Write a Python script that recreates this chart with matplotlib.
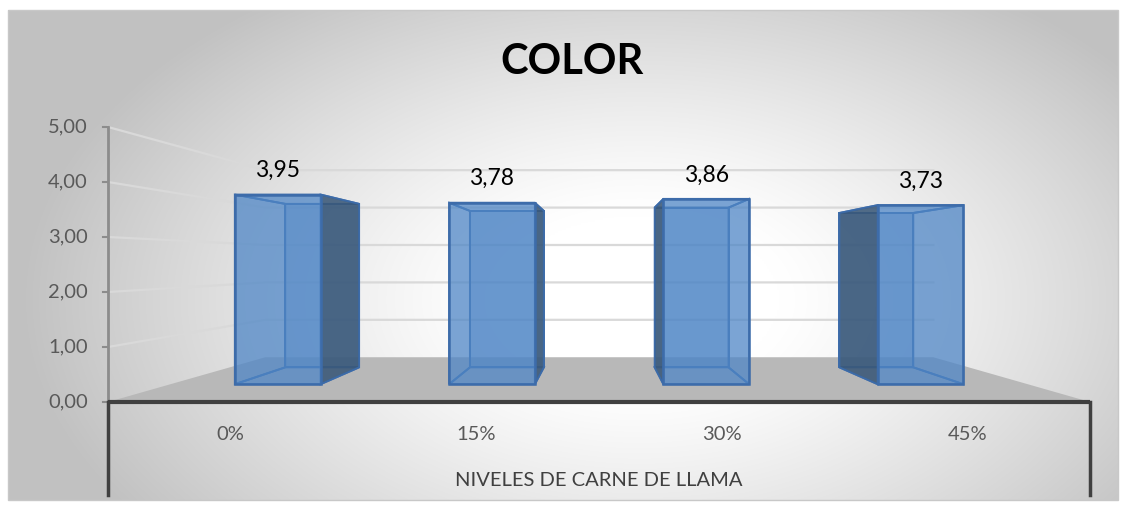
"""
plot.py - Excel-style 3D column chart "COLOR" drawn with plain matplotlib patches.
"""
import matplotlib
matplotlib.use('Agg')
import matplotlib.pyplot as plt
from matplotlib.patches import Polygon, Rectangle
import numpy as np

plt.rcParams['font.family'] = ['Lato', 'DejaVu Sans']

# Chart data
categories = ['0%', '15%', '30%', '45%']
values = [3.95, 3.78, 3.86, 3.73]
y_ticks = [0, 1, 2, 3, 4, 5]
title = 'COLOR'
x_label = 'NIVELES DE CARNE DE LLAMA'

# Canvas / projection layout (pixels)
W, H = 1126, 508
AX_LEFT, AX_RIGHT = 108, 1090      # front edge of the floor
Y_BASE = 402                        # value 0 on the front plane
PX_PER_UNIT = 55                    # value scale on the front plane
VX, VY = 600, 262                   # vanishing point
K_DEPTH = 0.47                      # perspective strength
WALL_Z = 1.0                        # depth of back wall
BAR_Z0, BAR_Z1 = 0.31, 0.70         # depth range of the columns
BAR_FRAC = 0.40                     # column width / category width

BAR_COLOR = '#4f86c6'
EDGE_COLOR = '#3d6caa'
SIDE_COLOR = '#3a5878'
FLOOR_COLOR = '#b8b8b8'
GRID_COLOR = '#d9d9d9'


def proj(x, v, z):
    """Project world point (x on front plane, value, depth) to screen pixels."""
    s = 1.0 / (1.0 + K_DEPTH * z)
    y = Y_BASE - PX_PER_UNIT * v
    return VX + (x - VX) * s, VY + (y - VY) * s


def poly(ax, pts, **kw):
    ax.add_patch(Polygon([proj(*p) for p in pts], closed=True, **kw))


fig = plt.figure(figsize=(W / 100, H / 100), dpi=100)
fig.patch.set_facecolor('white')
ax = fig.add_axes([0, 0, 1, 1])
ax.set_xlim(0, W)
ax.set_ylim(H, 0)
ax.axis('off')

# Radial-gradient chart background (white centre, grey rim)
cx0, cy0, cx1, cy1 = 8, 10, 1118, 500
gx, gy = np.meshgrid(np.linspace(cx0, cx1, 600), np.linspace(cy0, cy1, 300))
r = np.sqrt(((gx - 640) / 560) ** 2 + ((gy - 300) / 340) ** 2)
shade = 1.0 - 0.24 * np.clip((r - 0.25) / 0.85, 0, 1) ** 1.2
ax.imshow(np.dstack([shade] * 3), extent=(cx0, cx1, cy1, cy0), aspect='auto',
          interpolation='bilinear', zorder=0)
ax.add_patch(Rectangle((cx0, cy0), cx1 - cx0, cy1 - cy0, fill=False,
                       edgecolor='#c8c8c8', linewidth=1, zorder=1))

# Gridlines on back wall and left side wall
for v in y_ticks[1:]:
    xs, ys = zip(proj(AX_LEFT, v, 0), proj(AX_LEFT, v, WALL_Z), proj(AX_RIGHT, v, WALL_Z))
    ax.plot(xs, ys, color=GRID_COLOR, linewidth=1.6, zorder=2)

# Floor
poly(ax, [(AX_LEFT, 0, 0), (AX_RIGHT, 0, 0), (AX_RIGHT, 0, WALL_Z), (AX_LEFT, 0, WALL_Z)],
     facecolor=FLOOR_COLOR, edgecolor='none', zorder=3)

# Columns
cat_w = (AX_RIGHT - AX_LEFT) / len(categories)
for i, v in enumerate(values):
    xc = AX_LEFT + (i + 0.5) * cat_w
    x0, x1 = xc - BAR_FRAC / 2 * cat_w, xc + BAR_FRAC / 2 * cat_w
    z0, z1 = BAR_Z0, BAR_Z1
    zo = 4 + i * 0.1
    back = [(x0, 0, z1), (x1, 0, z1), (x1, v, z1), (x0, v, z1)]
    bottom = [(x0, 0, z0), (x1, 0, z0), (x1, 0, z1), (x0, 0, z1)]
    top = [(x0, v, z0), (x1, v, z0), (x1, v, z1), (x0, v, z1)]
    left = [(x0, 0, z0), (x0, 0, z1), (x0, v, z1), (x0, v, z0)]
    right = [(x1, 0, z0), (x1, 0, z1), (x1, v, z1), (x1, v, z0)]
    front = [(x0, 0, z0), (x1, 0, z0), (x1, v, z0), (x0, v, z0)]
    side_vis, side_hid = (left, right) if x0 > VX else (right, left)

    poly(ax, back, facecolor=BAR_COLOR, alpha=0.4, edgecolor='none', zorder=zo)
    for f in (back, bottom, top, side_hid):
        poly(ax, f, facecolor='none', edgecolor=EDGE_COLOR, linewidth=1.4, zorder=zo)
    poly(ax, side_vis, facecolor=SIDE_COLOR, alpha=0.88, edgecolor=EDGE_COLOR,
         linewidth=1.4, zorder=zo + 0.01)
    poly(ax, front, facecolor=BAR_COLOR, alpha=0.75, edgecolor='none', zorder=zo + 0.02)
    poly(ax, front, facecolor='none', edgecolor=EDGE_COLOR, linewidth=1.8, zorder=zo + 0.03)

    lx, ly = proj(xc, v, z0)
    ax.text(lx, ly - 24, f'{v:.2f}'.replace('.', ','), ha='center', va='center',
            fontsize=16.5, color='black', zorder=6)

# Value axis
ax.plot([AX_LEFT, AX_LEFT], [proj(AX_LEFT, 0, 0)[1], proj(AX_LEFT, y_ticks[-1], 0)[1]],
        color='#8c8c8c', linewidth=2, zorder=5)
for v in y_ticks:
    ty = proj(AX_LEFT, v, 0)[1]
    ax.plot([AX_LEFT - 5, AX_LEFT], [ty, ty], color='#8c8c8c', linewidth=1.5, zorder=5)
    ax.text(AX_LEFT - 20, ty, f'{v:.2f}'.replace('.', ','), ha='right', va='center',
            fontsize=14.5, color='#595959', zorder=6)

# Category axis box
ax.plot([AX_LEFT, AX_RIGHT], [Y_BASE, Y_BASE], color='#404040', linewidth=3, zorder=5,
        solid_capstyle='butt')
for xe in (AX_LEFT, AX_RIGHT):
    ax.plot([xe, xe], [Y_BASE, 495], color='#404040', linewidth=2.5, zorder=5)
for i, c in enumerate(categories):
    ax.text(AX_LEFT + (i + 0.5) * cat_w, 435, c, ha='center', va='center',
            fontsize=14.5, color='#595959', zorder=6)

ax.text((AX_LEFT + AX_RIGHT) / 2, 480, x_label, ha='center', va='center',
        fontsize=14.5, color='#404040', zorder=6)
ax.text(572, 62, title, ha='center', va='center', fontsize=30, fontweight='bold',
        color='black', zorder=6)

fig.savefig('out.png', dpi=100, facecolor='white')
